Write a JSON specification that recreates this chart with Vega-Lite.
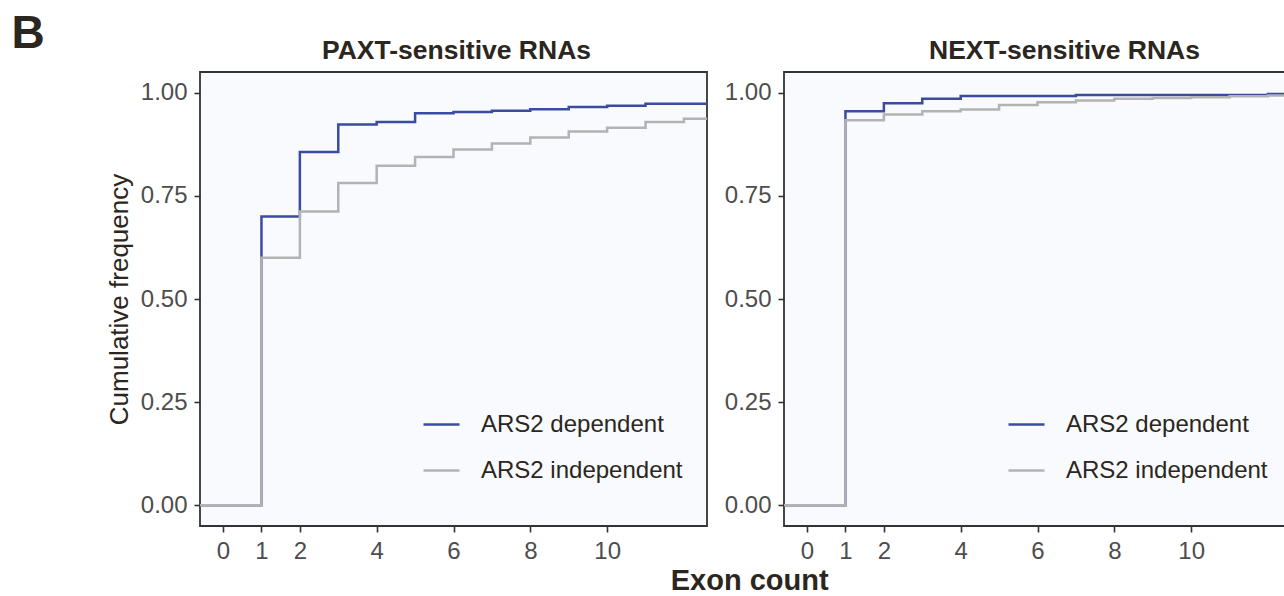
{
  "$schema": "https://vega.github.io/schema/vega-lite/v6.json",
  "padding": {"left": 11, "top": 10, "right": 0, "bottom": 0},
  "background": "white",
  "title": {"text": "B", "anchor": "start", "fontSize": 46, "fontWeight": "bold", "color": "#2B2620", "dx": -94, "offset": -21},
  "datasets": {
    "paxt": [
      {"group": "ARS2 dependent", "exons": -1, "cdf": 0},
      {"group": "ARS2 dependent", "exons": 1, "cdf": 0.700},
      {"group": "ARS2 dependent", "exons": 2, "cdf": 0.856},
      {"group": "ARS2 dependent", "exons": 3, "cdf": 0.923},
      {"group": "ARS2 dependent", "exons": 4, "cdf": 0.929},
      {"group": "ARS2 dependent", "exons": 5, "cdf": 0.950},
      {"group": "ARS2 dependent", "exons": 6, "cdf": 0.953},
      {"group": "ARS2 dependent", "exons": 7, "cdf": 0.956},
      {"group": "ARS2 dependent", "exons": 8, "cdf": 0.960},
      {"group": "ARS2 dependent", "exons": 9, "cdf": 0.965},
      {"group": "ARS2 dependent", "exons": 10, "cdf": 0.968},
      {"group": "ARS2 dependent", "exons": 11, "cdf": 0.973},
      {"group": "ARS2 dependent", "exons": 14, "cdf": 0.973},
      {"group": "ARS2 independent", "exons": -1, "cdf": 0},
      {"group": "ARS2 independent", "exons": 1, "cdf": 0.600},
      {"group": "ARS2 independent", "exons": 2, "cdf": 0.712},
      {"group": "ARS2 independent", "exons": 3, "cdf": 0.781},
      {"group": "ARS2 independent", "exons": 4, "cdf": 0.823},
      {"group": "ARS2 independent", "exons": 5, "cdf": 0.844},
      {"group": "ARS2 independent", "exons": 6, "cdf": 0.862},
      {"group": "ARS2 independent", "exons": 7, "cdf": 0.877},
      {"group": "ARS2 independent", "exons": 8, "cdf": 0.891},
      {"group": "ARS2 independent", "exons": 9, "cdf": 0.906},
      {"group": "ARS2 independent", "exons": 10, "cdf": 0.915},
      {"group": "ARS2 independent", "exons": 11, "cdf": 0.929},
      {"group": "ARS2 independent", "exons": 12, "cdf": 0.937},
      {"group": "ARS2 independent", "exons": 14, "cdf": 0.937}
    ],
    "next": [
      {"group": "ARS2 dependent", "exons": -1, "cdf": 0},
      {"group": "ARS2 dependent", "exons": 1, "cdf": 0.955},
      {"group": "ARS2 dependent", "exons": 2, "cdf": 0.974},
      {"group": "ARS2 dependent", "exons": 3, "cdf": 0.985},
      {"group": "ARS2 dependent", "exons": 4, "cdf": 0.992},
      {"group": "ARS2 dependent", "exons": 7, "cdf": 0.994},
      {"group": "ARS2 dependent", "exons": 12, "cdf": 0.997},
      {"group": "ARS2 dependent", "exons": 14, "cdf": 0.997},
      {"group": "ARS2 independent", "exons": -1, "cdf": 0},
      {"group": "ARS2 independent", "exons": 1, "cdf": 0.933},
      {"group": "ARS2 independent", "exons": 2, "cdf": 0.947},
      {"group": "ARS2 independent", "exons": 3, "cdf": 0.955},
      {"group": "ARS2 independent", "exons": 4, "cdf": 0.959},
      {"group": "ARS2 independent", "exons": 5, "cdf": 0.970},
      {"group": "ARS2 independent", "exons": 6, "cdf": 0.977},
      {"group": "ARS2 independent", "exons": 7, "cdf": 0.981},
      {"group": "ARS2 independent", "exons": 8, "cdf": 0.985},
      {"group": "ARS2 independent", "exons": 9, "cdf": 0.987},
      {"group": "ARS2 independent", "exons": 10, "cdf": 0.989},
      {"group": "ARS2 independent", "exons": 11, "cdf": 0.991},
      {"group": "ARS2 independent", "exons": 12, "cdf": 0.993},
      {"group": "ARS2 independent", "exons": 14, "cdf": 0.993}
    ]
  },
  "vconcat": [
    {
      "title": {"text": "Exon count", "orient": "bottom", "anchor": "middle", "fontSize": 29, "fontWeight": "bold", "color": "#2B2620", "dx": 51, "offset": 3},
      "spacing": 15,
      "resolve": {"legend": {"color": "independent"}},
      "hconcat": [
        {
          "width": 507,
          "height": 454,
          "title": {"text": "PAXT-sensitive RNAs", "dx": 3},
          "data": {"name": "paxt"},
          "mark": {"type": "line", "interpolate": "step-after", "strokeWidth": 2.5, "clip": true},
          "encoding": {
            "x": {"field": "exons", "type": "quantitative", "scale": {"domain": [-0.6, 12.6], "nice": false, "zero": false}, "axis": {"values": [0, 1, 2, 4, 6, 8, 10], "format": "d", "title": null}},
            "y": {"field": "cdf", "type": "quantitative", "scale": {"domain": [-0.05, 1.05], "nice": false, "zero": false}, "axis": {"values": [0, 0.25, 0.5, 0.75, 1], "format": ".2f", "title": "Cumulative frequency"}},
            "color": {"field": "group", "type": "nominal", "scale": {"domain": ["ARS2 dependent", "ARS2 independent"], "range": ["#3B4BA0", "#B3B3B3"]}, "legend": {"orient": "none", "legendX": 222, "legendY": 333}}
          }
        },
        {
          "width": 507,
          "height": 454,
          "title": {"text": "NEXT-sensitive RNAs", "dx": 27},
          "data": {"name": "next"},
          "mark": {"type": "line", "interpolate": "step-after", "strokeWidth": 2.5, "clip": true},
          "encoding": {
            "x": {"field": "exons", "type": "quantitative", "scale": {"domain": [-0.6, 12.6], "nice": false, "zero": false}, "axis": {"values": [0, 1, 2, 4, 6, 8, 10], "format": "d", "title": null}},
            "y": {"field": "cdf", "type": "quantitative", "scale": {"domain": [-0.05, 1.05], "nice": false, "zero": false}, "axis": {"values": [0, 0.25, 0.5, 0.75, 1], "format": ".2f", "title": null}},
            "color": {"field": "group", "type": "nominal", "scale": {"domain": ["ARS2 dependent", "ARS2 independent"], "range": ["#3B4BA0", "#B3B3B3"]}, "legend": {"orient": "none", "legendX": 223, "legendY": 333}}
          }
        }
      ]
    }
  ],
  "config": {
    "font": "Liberation Sans",
    "view": {"fill": "#F8FAFD", "stroke": "#333333", "strokeWidth": 1.8},
    "axis": {"grid": false, "domain": false, "tickColor": "#333333", "tickWidth": 1.6, "tickSize": 6, "labelFontSize": 24, "labelColor": "#4D4D4D", "labelPadding": 7, "titleFontSize": 26, "titleFontWeight": "normal", "titleColor": "#2B2620", "titlePadding": 8},
    "title": {"fontSize": 26.5, "fontWeight": "bold", "color": "#2B2620", "offset": 8},
    "legend": {"title": null, "symbolType": "stroke", "symbolSize": 1296, "symbolStrokeWidth": 2.5, "labelFontSize": 24, "labelLimit": 400, "labelColor": "#2B2620", "labelOffset": 20, "rowPadding": 14, "padding": 0}
  }
}
